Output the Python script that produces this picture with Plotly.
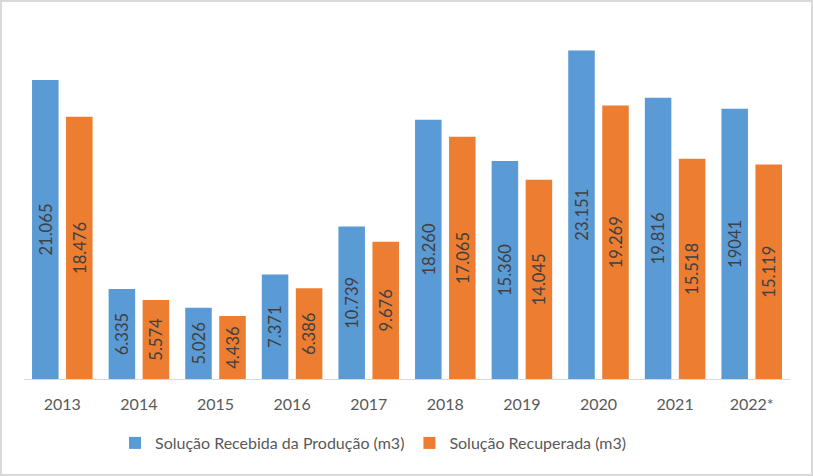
import plotly.graph_objects as go

years = ["2013", "2014", "2015", "2016", "2017", "2018", "2019", "2020", "2021", "2022*"]
recebida = [21065, 6335, 5026, 7371, 10739, 18260, 15360, 23151, 19816, 19041]
recuperada = [18476, 5574, 4436, 6386, 9676, 17065, 14045, 19269, 15518, 15119]
recebida_labels = ["21.065", "6.335", "5.026", "7.371", "10.739", "18.260", "15.360", "23.151", "19.816", "19041"]
recuperada_labels = ["18.476", "5.574", "4.436", "6.386", "9.676", "17.065", "14.045", "19.269", "15.518", "15.119"]

FONT = "Lato"
txtfont = dict(family=FONT, size=17, color="#404040")

fig = go.Figure()
fig.add_trace(go.Bar(
    x=years, y=recebida, name="Solução Recebida da Produção (m3)",
    marker=dict(color="#5B9BD5", line=dict(width=0)),
    text=recebida_labels, textposition="inside", insidetextanchor="middle",
    textangle=-90, textfont=txtfont, hoverinfo="x+y",
))
fig.add_trace(go.Bar(
    x=years, y=recuperada, name="Solução Recuperada (m3)",
    marker=dict(color="#ED7D31", line=dict(width=0)),
    text=recuperada_labels, textposition="inside", insidetextanchor="middle",
    textangle=-90, textfont=txtfont, hoverinfo="x+y",
))

# outer border of chart area
L, R, T, B = 24, 790, 30, 379
W = R - L
H = B - T
fig.add_shape(type="rect", xref="paper", yref="paper",
              x0=(1 - L) / W, x1=(812 - L) / W,
              y0=(B - 475) / H, y1=(B - 1) / H,
              line=dict(color="#D9D9D9", width=2), fillcolor="rgba(0,0,0,0)", layer="below")

fig.update_layout(
    width=813, height=476,
    margin=dict(l=L, r=813 - R, t=T, b=476 - B),
    paper_bgcolor="white", plot_bgcolor="white",
    barmode="group", bargap=0.112, bargroupgap=0.22,
    font=dict(family=FONT, color="#595959"),
    uniformtext=dict(minsize=8, mode="show"),
    showlegend=True,
    legend=dict(orientation="h", x=(373.5 - L) / W, xanchor="center", y=(B - 443) / H, yanchor="middle",
                font=dict(family=FONT, size=16, color="#595959"), itemwidth=30,
                traceorder="normal"),
    xaxis=dict(showgrid=False, showline=True, linecolor="#D9D9D9", linewidth=1,
               ticks="outside", ticklen=11, tickcolor="rgba(0,0,0,0)",
               tickfont=dict(family=FONT, size=16, color="#595959"), fixedrange=True),
    yaxis=dict(range=[0, 24590], showgrid=False, showticklabels=False, zeroline=False,
               showline=False, fixedrange=True),
)

fig.write_html("out.html", post_script="document.body.style.margin='0';",
               config={"displayModeBar": False})
